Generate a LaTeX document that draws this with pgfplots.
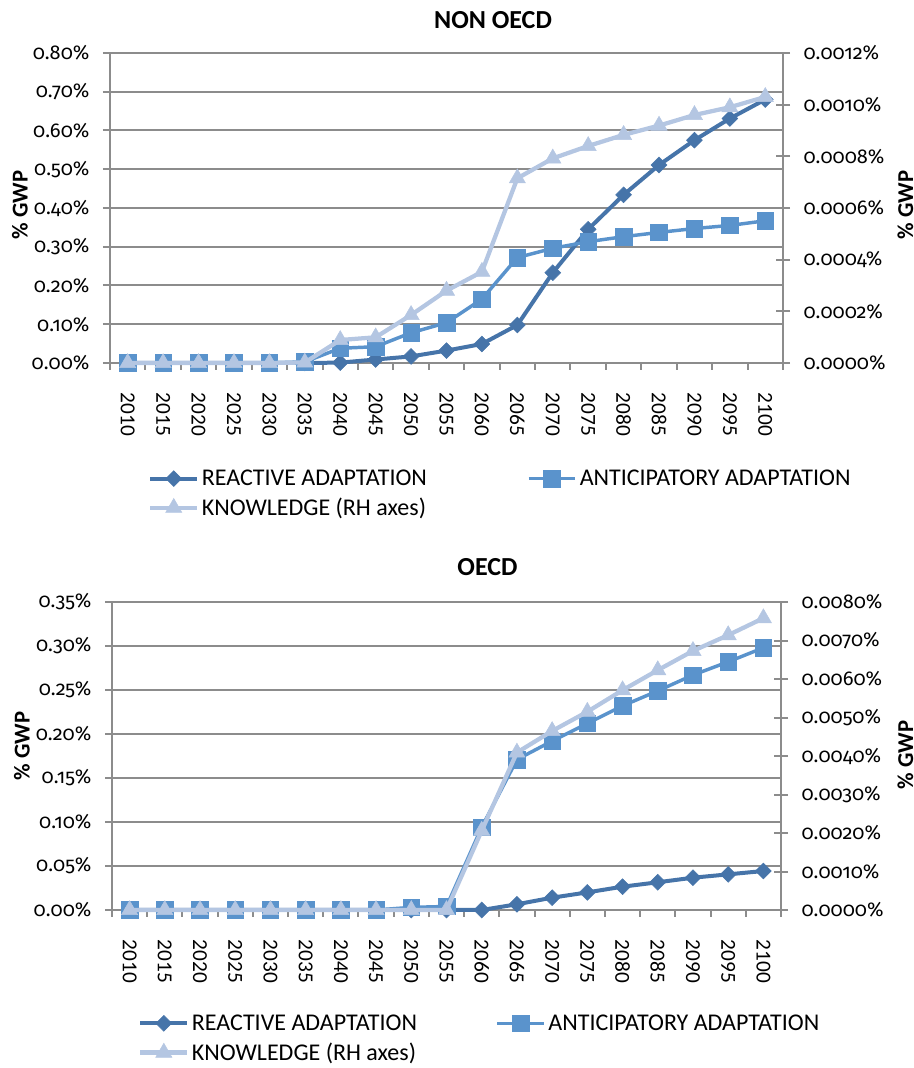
\documentclass[border=0pt]{standalone}
\usepackage{fontspec}
\setmainfont{Carlito}
\newfontfamily\oldnum{Fira Sans}[Numbers=OldStyle]
\usepackage{pgfplots}
\pgfplotsset{compat=1.18}

\definecolor{reac}{HTML}{4674A9}
\definecolor{anti}{HTML}{5A93CC}
\definecolor{know}{HTML}{B4C6E2}
\definecolor{gridc}{HTML}{8C8C8C}

% NON OECD (left axis in %, knowledge on right axis)
\pgfplotstableread{
x react antic know
0  0      0      0
1  0      0      0
2  0      0      0
3  0      0      0
4  0      0      0
5  0      0.003  0.000002
6  0.001  0.038  0.000089
7  0.009  0.042  0.0000995
8  0.017  0.078  0.000186
9  0.032  0.104  0.00028
10 0.049  0.165  0.000353
11 0.098  0.272  0.000715
12 0.233  0.296  0.000792
13 0.345  0.313  0.00084
14 0.434  0.326  0.000883
15 0.511  0.337  0.000919
16 0.575  0.347  0.00096
17 0.631  0.355  0.00099
18 0.680  0.367  0.00103
}\nonoecd

% OECD
\pgfplotstableread{
x react antic know
0  0      0      0
1  0      0      0
2  0      0      0
3  0      0      0
4  0      0      0
5  0      0      0
6  0      0      0
7  0      0      0
8  0      0.003  0
9  0      0.004  0
10 0      0.094  0.00206
11 0.0065 0.171  0.00409
12 0.014  0.192  0.00465
13 0.020  0.212  0.00515
14 0.0265 0.232  0.00571
15 0.0315 0.249  0.00623
16 0.0367 0.267  0.00673
17 0.0405 0.282  0.00714
18 0.0443 0.298  0.00758
}\oecd

\newcommand\tickfont{\fontsize{15}{17}\selectfont\oldnum}

\pgfplotsset{
  reacstyle/.style={color=reac, line width=3pt, mark=square*, mark size=4.2pt,
    mark options={rotate=45, line width=0.4pt}},
  antistyle/.style={color=anti, line width=2.6pt, mark=square*, mark size=6.2pt,
    mark options={line width=0.4pt}},
  knowstyle/.style={color=know, line width=3.2pt, mark=triangle*, mark size=7pt,
    mark options={line width=0.4pt}},
  base/.style={
    scale only axis, clip=false,
    xmin=-0.5, xmax=18.5, ymin=0,
    scaled y ticks=false,
    axis line style={gridc, line width=1.5pt},
    tick style={gridc, line width=1.5pt},
  },
  leftax/.style={
    base,
    axis x line*=bottom, axis y line*=left,
    ymajorgrids, major grid style={gridc, line width=1.5pt},
    tick align=outside, major tick length=5.25pt, minor tick length=5pt,
    xtick={0,1,...,18},
    xticklabels={2010,2015,2020,2025,2030,2035,2040,2045,2050,2055,2060,2065,2070,2075,2080,2085,2090,2095,2100},
    major x tick style={draw=none},
    minor xtick={-0.5,0.5,...,18.5},
    xticklabel shift=17pt,
    xticklabel style={rotate=-90, anchor=west, inner sep=0pt,
      font=\fontsize{16}{16}\selectfont},
    yticklabel style={font=\tickfont, anchor=east, inner sep=0pt, xshift=-10pt},
  },
  rightax/.style={
    base,
    axis y line*=right, axis x line=none, xtick=\empty,
    tick align=center, major tick length=10.5pt,
    yticklabel style={font=\tickfont, anchor=west, inner sep=0pt, xshift=10pt},
    legend columns=2,
    legend cell align=left,
    legend style={draw=none, fill=none, inner sep=0pt, anchor=north west,
      font=\fontsize{18}{21}\selectfont, row sep=4pt},
    legend image code/.code={\draw[mark repeat=2, mark phase=2, ##1]
      plot coordinates {(0pt,0pt) (17.5pt,0pt) (35pt,0pt)};},
  },
}

\begin{document}
\begin{tikzpicture}
\useasboundingbox (0,0) rectangle (685.5pt,801pt);

% ---------- NON OECD ----------
\begin{axis}[leftax, at={(82.5pt,528.75pt)}, anchor=south west,
  width=504.75pt, height=232.5pt, ymax=0.8,
  ytick={0,0.1,0.2,0.3,0.4,0.5,0.6,0.7,0.8},
  yticklabels={0.00\%,0.10\%,0.20\%,0.30\%,0.40\%,0.50\%,0.60\%,0.70\%,0.80\%}]
\addplot[reacstyle] table[x=x, y=react] {\nonoecd};
\addplot[antistyle] table[x=x, y=antic] {\nonoecd};
\end{axis}
\begin{axis}[rightax, at={(82.5pt,528.75pt)}, anchor=south west,
  width=504.75pt, height=232.5pt, ymax=0.0012,
  ytick={0,0.0002,0.0004,0.0006,0.0008,0.001,0.0012},
  yticklabels={0.0000\%,0.0002\%,0.0004\%,0.0006\%,0.0008\%,0.0010\%,0.0012\%},
  legend style={at={(0.0565,-0.335)},
    /tikz/every even column/.append style={column sep=73pt}}]
\addlegendimage{reacstyle}
\addlegendentry{REACTIVE ADAPTATION}
\addlegendimage{antistyle}
\addlegendentry{ANTICIPATORY ADAPTATION}
\addplot[knowstyle] table[x=x, y=know] {\nonoecd};
\addlegendentry{KNOWLEDGE (RH axes)}
\end{axis}

% ---------- OECD ----------
\begin{axis}[leftax, at={(84pt,118.5pt)}, anchor=south west,
  width=501.75pt, height=231pt, ymax=0.35,
  ytick={0,0.05,0.1,0.15,0.2,0.25,0.3,0.35},
  yticklabels={0.00\%,0.05\%,0.10\%,0.15\%,0.20\%,0.25\%,0.30\%,0.35\%}]
\addplot[reacstyle] table[x=x, y=react] {\oecd};
\addplot[antistyle] table[x=x, y=antic] {\oecd};
\end{axis}
\begin{axis}[rightax, at={(84pt,118.5pt)}, anchor=south west,
  width=501.75pt, height=231pt, ymax=0.008,
  ytick={0,0.001,0.002,0.003,0.004,0.005,0.006,0.007,0.008},
  yticklabels={0.0000\%,0.0010\%,0.0020\%,0.0030\%,0.0040\%,0.0050\%,0.0060\%,0.0070\%,0.0080\%},
  legend style={at={(0.039,-0.33)},
    /tikz/every even column/.append style={column sep=57pt}}]
\addlegendimage{reacstyle}
\addlegendentry{REACTIVE ADAPTATION}
\addlegendimage{antistyle}
\addlegendentry{ANTICIPATORY ADAPTATION}
\addplot[knowstyle] table[x=x, y=know] {\oecd};
\addlegendentry{KNOWLEDGE (RH axes)}
\end{axis}

% titles and axis titles
\node[font=\fontsize{19.5}{19.5}\selectfont\bfseries] at (369.75pt,786pt) {NON OECD};
\node[font=\fontsize{19.5}{19.5}\selectfont\bfseries] at (365.6pt,375.75pt) {OECD};
\node[font=\fontsize{17}{17}\selectfont\bfseries, rotate=90] at (15pt,647.25pt) {\% GWP};
\node[font=\fontsize{17}{17}\selectfont\bfseries, rotate=90] at (679pt,647.25pt) {\% GWP};
\node[font=\fontsize{17}{17}\selectfont\bfseries, rotate=90] at (16.5pt,241.5pt) {\% GWP};
\node[font=\fontsize{17}{17}\selectfont\bfseries, rotate=90] at (679pt,234.75pt) {\% GWP};
\end{tikzpicture}
\end{document}
